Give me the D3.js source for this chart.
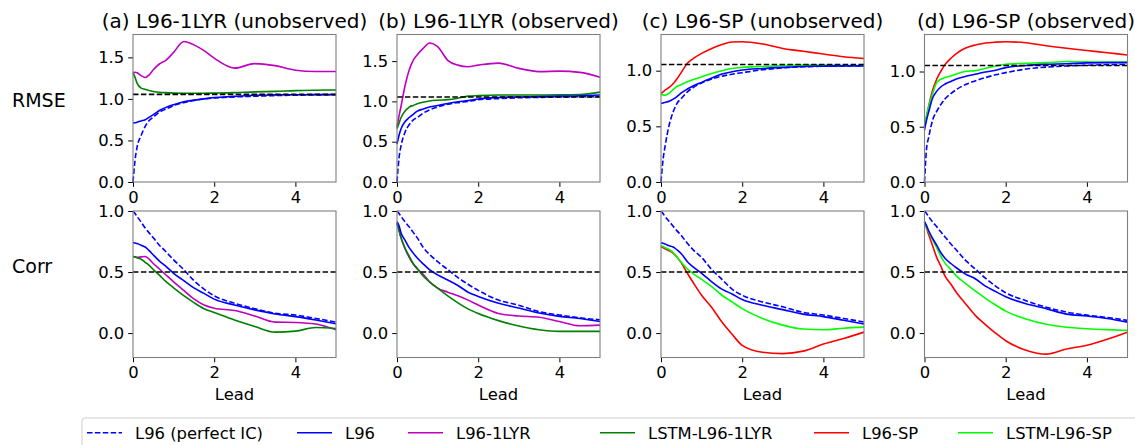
<!DOCTYPE html>
<meta charset="UTF-8">
<title>Forecast skill</title>
<style>
  body { margin: 0; background: #fff; }
  svg { font-family: "DejaVu Sans", sans-serif; }
</style>
<svg width="1135" height="445"></svg>
<script src="https://d3js.org/d3.v7.min.js"></script>
<script>
var lead = [0, 0.05, 0.1, 0.2, 0.3, 0.4, 0.5, 0.65, 0.8, 1.0, 1.25, 1.5, 1.75, 2.0, 2.5, 3.0, 3.5, 4.0, 4.5, 5.0];

var titles = ["(a) L96-1LYR (unobserved)", "(b) L96-1LYR (observed)", "(c) L96-SP (unobserved)", "(d) L96-SP (observed)"];
var rowLabels = ["RMSE", "Corr"];
var legendLabels = ["L96 (perfect IC)", "L96", "L96-1LYR", "LSTM-L96-1LYR", "L96-SP", "LSTM-L96-SP"];
var rmseRef = 1.055;
var corrRef = 0.5;

// RMSE
var rmse_a_perfect = [0, 0.26, 0.42, 0.56, 0.67, 0.74, 0.78, 0.84, 0.875, 0.92, 0.955, 0.98, 1.0, 1.01, 1.024, 1.032, 1.04, 1.045, 1.048, 1.05];
var rmse_a_l96     = [0.71, 0.712, 0.72, 0.735, 0.75, 0.78, 0.81, 0.86, 0.895, 0.93, 0.965, 0.985, 1.0, 1.016, 1.03, 1.044, 1.048, 1.05, 1.051, 1.052];
var rmse_a_1lyr    = [1.317, 1.32, 1.315, 1.28, 1.257, 1.29, 1.35, 1.42, 1.46, 1.56, 1.69, 1.65, 1.58, 1.49, 1.37, 1.425, 1.40, 1.345, 1.33, 1.33];
var rmse_a_lstm    = [1.317, 1.26, 1.19, 1.13, 1.115, 1.10, 1.09, 1.08, 1.075, 1.07, 1.068, 1.068, 1.068, 1.07, 1.075, 1.085, 1.09, 1.1, 1.105, 1.108];

var rmse_b_perfect = [0, 0.3, 0.45, 0.62, 0.71, 0.77, 0.80, 0.855, 0.895, 0.93, 0.965, 0.985, 1.0, 1.02, 1.035, 1.045, 1.05, 1.055, 1.058, 1.06];
var rmse_b_l96     = [0.47, 0.58, 0.66, 0.75, 0.80, 0.84, 0.88, 0.905, 0.93, 0.95, 0.975, 0.995, 1.01, 1.03, 1.048, 1.055, 1.06, 1.065, 1.07, 1.08];
var rmse_b_1lyr    = [0.68, 0.82, 0.94, 1.2, 1.39, 1.51, 1.58, 1.66, 1.725, 1.68, 1.51, 1.45, 1.43, 1.45, 1.475, 1.41, 1.37, 1.375, 1.36, 1.30];
var rmse_b_lstm    = [0.66, 0.73, 0.80, 0.88, 0.93, 0.95, 0.97, 0.99, 1.005, 1.015, 1.022, 1.04, 1.065, 1.072, 1.08, 1.08, 1.08, 1.082, 1.085, 1.115];

var rmse_c_perfect = [0, 0.2, 0.32, 0.51, 0.63, 0.71, 0.75, 0.81, 0.85, 0.89, 0.925, 0.95, 0.968, 0.982, 1.008, 1.025, 1.035, 1.04, 1.043, 1.045];
var rmse_c_l96     = [0.706, 0.71, 0.715, 0.725, 0.745, 0.77, 0.80, 0.835, 0.865, 0.895, 0.935, 0.97, 0.99, 1.006, 1.02, 1.03, 1.038, 1.04, 1.042, 1.042];
var rmse_c_sp      = [0.796, 0.81, 0.825, 0.85, 0.883, 0.93, 0.985, 1.066, 1.11, 1.155, 1.20, 1.235, 1.258, 1.26, 1.24, 1.20, 1.175, 1.15, 1.125, 1.11];
var rmse_c_lstm    = [0.79, 0.782, 0.78, 0.798, 0.83, 0.86, 0.875, 0.90, 0.92, 0.945, 0.975, 1.0, 1.02, 1.03, 1.038, 1.045, 1.05, 1.05, 1.047, 1.045];

var rmse_d_perfect = [0, 0.3, 0.4, 0.56, 0.64, 0.70, 0.75, 0.80, 0.84, 0.88, 0.915, 0.945, 0.97, 0.99, 1.022, 1.04, 1.05, 1.057, 1.062, 1.064];
var rmse_d_l96     = [0.47, 0.56, 0.63, 0.76, 0.82, 0.86, 0.885, 0.91, 0.935, 0.955, 0.975, 0.995, 1.012, 1.035, 1.055, 1.065, 1.07, 1.078, 1.08, 1.08];
var rmse_d_sp      = [0.5, 0.59, 0.68, 0.83, 0.93, 1.0, 1.06, 1.12, 1.167, 1.21, 1.24, 1.258, 1.266, 1.27, 1.26, 1.233, 1.21, 1.19, 1.17, 1.15];
var rmse_d_lstm    = [0.5, 0.6, 0.68, 0.80, 0.90, 0.93, 0.945, 0.96, 0.98, 1.0, 1.008, 1.03, 1.05, 1.066, 1.074, 1.08, 1.09, 1.088, 1.085, 1.088];

// Corr
var corr_a_perfect = [1.0, 0.98, 0.955, 0.91, 0.86, 0.82, 0.78, 0.72, 0.67, 0.60, 0.52, 0.43, 0.36, 0.305, 0.245, 0.20, 0.162, 0.148, 0.12, 0.09];
var corr_a_l96     = [0.74, 0.738, 0.733, 0.72, 0.705, 0.675, 0.64, 0.59, 0.55, 0.49, 0.43, 0.37, 0.325, 0.278, 0.23, 0.19, 0.157, 0.135, 0.107, 0.076];
var corr_a_1lyr    = [0.627, 0.625, 0.62, 0.624, 0.627, 0.605, 0.57, 0.525, 0.48, 0.42, 0.35, 0.28, 0.23, 0.204, 0.185, 0.14, 0.09, 0.087, 0.074, 0.027];
var corr_a_lstm    = [0.627, 0.624, 0.617, 0.605, 0.58, 0.555, 0.52, 0.475, 0.425, 0.37, 0.306, 0.25, 0.2, 0.169, 0.107, 0.054, 0.008, 0.016, 0.046, 0.038];

var corr_b_perfect = [1.0, 0.98, 0.955, 0.91, 0.87, 0.825, 0.78, 0.70, 0.645, 0.585, 0.52, 0.455, 0.40, 0.35, 0.27, 0.228, 0.175, 0.148, 0.125, 0.109];
var corr_b_l96     = [0.913, 0.88, 0.82, 0.76, 0.70, 0.655, 0.615, 0.565, 0.52, 0.477, 0.435, 0.39, 0.335, 0.30, 0.245, 0.205, 0.165, 0.137, 0.12, 0.095];
var corr_b_1lyr    = [0.9, 0.84, 0.78, 0.69, 0.62, 0.565, 0.525, 0.48, 0.42, 0.368, 0.335, 0.305, 0.27, 0.23, 0.16, 0.14, 0.13, 0.095, 0.06, 0.065];
var corr_b_lstm    = [0.9, 0.84, 0.78, 0.695, 0.63, 0.57, 0.53, 0.465, 0.42, 0.368, 0.305, 0.248, 0.198, 0.16, 0.102, 0.058, 0.027, 0.014, 0.014, 0.014];

var corr_c_perfect = [1.0, 0.98, 0.955, 0.915, 0.875, 0.835, 0.80, 0.735, 0.68, 0.62, 0.52, 0.44, 0.36, 0.31, 0.255, 0.215, 0.17, 0.148, 0.12, 0.09];
var corr_c_l96     = [0.74, 0.735, 0.73, 0.715, 0.705, 0.68, 0.65, 0.585, 0.54, 0.49, 0.42, 0.36, 0.32, 0.275, 0.228, 0.192, 0.155, 0.135, 0.105, 0.074];
var corr_c_sp      = [0.708, 0.70, 0.69, 0.675, 0.655, 0.62, 0.575, 0.49, 0.41, 0.31, 0.21, 0.09, -0.01, -0.1, -0.157, -0.168, -0.148, -0.09, -0.045, 0.008];
var corr_c_lstm    = [0.714, 0.71, 0.70, 0.685, 0.66, 0.62, 0.58, 0.525, 0.485, 0.44, 0.38, 0.31, 0.255, 0.2, 0.12, 0.065, 0.033, 0.027, 0.04, 0.049];

var corr_d_perfect = [1.0, 0.98, 0.955, 0.91, 0.872, 0.83, 0.79, 0.73, 0.675, 0.60, 0.525, 0.45, 0.385, 0.33, 0.265, 0.212, 0.172, 0.147, 0.128, 0.104];
var corr_d_l96     = [0.913, 0.88, 0.84, 0.775, 0.72, 0.66, 0.615, 0.57, 0.531, 0.485, 0.445, 0.385, 0.34, 0.298, 0.24, 0.2, 0.155, 0.14, 0.12, 0.09];
var corr_d_sp      = [0.907, 0.86, 0.81, 0.715, 0.62, 0.55, 0.47, 0.40, 0.327, 0.245, 0.145, 0.07, 0.0, -0.063, -0.14, -0.172, -0.13, -0.1, -0.05, 0.008];
var corr_d_lstm    = [0.907, 0.87, 0.83, 0.765, 0.70, 0.63, 0.575, 0.52, 0.463, 0.41, 0.345, 0.285, 0.23, 0.18, 0.115, 0.072, 0.048, 0.036, 0.028, 0.022];

var styles = {
  perfect: {color: "#0000ff", dash: "5.5,2.4"},
  l96:     {color: "#0000ff", dash: null},
  lyr:     {color: "#bf00bf", dash: null},
  lstmLyr: {color: "#008000", dash: null},
  sp:      {color: "#ff0000", dash: null},
  lstmSp:  {color: "#00ff00", dash: null}
};
var legendKeys = ["perfect", "l96", "lyr", "lstmLyr", "sp", "lstmSp"];

var panels = [
  {col: 0, rmseMax: 1.775, rmse: [["lyr", rmse_a_1lyr], ["lstmLyr", rmse_a_lstm], ["perfect", rmse_a_perfect], ["l96", rmse_a_l96]],
                          corr: [["lyr", corr_a_1lyr], ["lstmLyr", corr_a_lstm], ["perfect", corr_a_perfect], ["l96", corr_a_l96]]},
  {col: 1, rmseMax: 1.83,  rmse: [["lyr", rmse_b_1lyr], ["lstmLyr", rmse_b_lstm], ["perfect", rmse_b_perfect], ["l96", rmse_b_l96]],
                          corr: [["lyr", corr_b_1lyr], ["lstmLyr", corr_b_lstm], ["perfect", corr_b_perfect], ["l96", corr_b_l96]]},
  {col: 2, rmseMax: 1.325, rmse: [["sp", rmse_c_sp], ["lstmSp", rmse_c_lstm], ["perfect", rmse_c_perfect], ["l96", rmse_c_l96]],
                          corr: [["sp", corr_c_sp], ["lstmSp", corr_c_lstm], ["perfect", corr_c_perfect], ["l96", corr_c_l96]]},
  {col: 3, rmseMax: 1.335, rmse: [["sp", rmse_d_sp], ["lstmSp", rmse_d_lstm], ["perfect", rmse_d_perfect], ["l96", rmse_d_l96]],
                          corr: [["sp", corr_d_sp], ["lstmSp", corr_d_lstm], ["perfect", corr_d_perfect], ["l96", corr_d_l96]]}
];

var svg = d3.select("svg");
var colLeft = [133, 397, 661, 924.5],
    panelW = 203,
    rowTop = [34.5, 211],
    rowBottom = [182, 357.5],
    tickFont = 16.4,
    titleFont = 20;

function drawPanel(p, row) {
  var x0 = colLeft[p.col];
  var x = d3.scaleLinear().domain([0, 5]).range([x0, x0 + panelW]);
  var y = d3.scaleLinear()
      .domain(row == 0 ? [0, p.rmseMax] : [-0.2, 1.0])
      .range([rowBottom[row], rowTop[row]]);
  var g = svg.append("g");

  var line = d3.line()
      .curve(d3.curveMonotoneX)
      .x(function(d, i) { return x(lead[i]); })
      .y(function(d) { return y(d); });

  var series = row == 0 ? p.rmse : p.corr;
  series.forEach(function(s) {
    var st = styles[s[0]];
    g.append("path")
        .datum(s[1])
        .attr("fill", "none")
        .attr("stroke", st.color)
        .attr("stroke-width", 1.6)
        .attr("stroke-dasharray", st.dash)
        .attr("d", line);
  });

  var ref = row == 0 ? rmseRef : corrRef;
  g.append("line")
      .attr("x1", x(0)).attr("x2", x(5))
      .attr("y1", y(ref)).attr("y2", y(ref))
      .attr("stroke", "#000")
      .attr("stroke-width", 1.6)
      .attr("stroke-dasharray", "5.5,2.4");

  var yTicks = row == 0 ? (p.rmseMax > 1.5 ? [0, 0.5, 1.0, 1.5] : [0, 0.5, 1.0]) : [0, 0.5, 1.0];
  var ax = g.append("g")
      .attr("transform", "translate(" + x0 + ",0)")
      .call(d3.axisLeft(y).tickValues(yTicks).tickFormat(d3.format(".1f")).tickSize(4.8).tickPadding(4));
  var bx = g.append("g")
      .attr("transform", "translate(0," + rowBottom[row] + ")")
      .call(d3.axisBottom(x).tickValues([0, 2, 4]).tickFormat(d3.format("d")).tickSize(4.8).tickPadding(4.4));
  [ax, bx].forEach(function(a) {
    a.select(".domain").remove();
    a.selectAll("text").attr("font-size", tickFont).attr("font-family", "DejaVu Sans").attr("fill", "#000");
    a.selectAll("line").attr("stroke", "#000").attr("stroke-width", 1);
  });

  g.append("rect")
      .attr("x", x0).attr("y", rowTop[row])
      .attr("width", panelW).attr("height", rowBottom[row] - rowTop[row])
      .attr("fill", "none")
      .attr("stroke", "#7f7f7f")
      .attr("stroke-width", 1.1);

  if (row == 0) {
    svg.append("text")
        .attr("x", x0 + panelW / 2).attr("y", 27.5)
        .attr("text-anchor", "middle")
        .attr("font-size", titleFont)
        .text(titles[p.col]);
  } else {
    svg.append("text")
        .attr("x", x0 + panelW / 2).attr("y", 399.5)
        .attr("text-anchor", "middle")
        .attr("font-size", tickFont)
        .text("Lead");
  }
}

panels.forEach(function(p) {
  drawPanel(p, 0);
  drawPanel(p, 1);
});

svg.append("text").attr("x", 12).attr("y", 107).attr("font-size", 19).text(rowLabels[0]);
svg.append("text").attr("x", 12).attr("y", 272.5).attr("font-size", 19).text(rowLabels[1]);

// legend along the bottom edge
var legendX = [87, 297, 408, 600, 814, 958];
var legend = svg.append("g");
legend.append("rect")
    .attr("x", 82).attr("y", 418)
    .attr("width", 1080).attr("height", 50)
    .attr("rx", 3)
    .attr("fill", "#fff")
    .attr("stroke", "#cccccc")
    .attr("stroke-width", 1);
legendKeys.forEach(function(k, i) {
  var st = styles[k];
  legend.append("line")
      .attr("x1", legendX[i]).attr("x2", legendX[i] + 35)
      .attr("y1", 432.7).attr("y2", 432.7)
      .attr("stroke", st.color)
      .attr("stroke-width", 1.6)
      .attr("stroke-dasharray", st.dash);
  legend.append("text")
      .attr("x", legendX[i] + 48).attr("y", 438.5)
      .attr("font-size", tickFont)
      .text(legendLabels[i]);
});
</script>
